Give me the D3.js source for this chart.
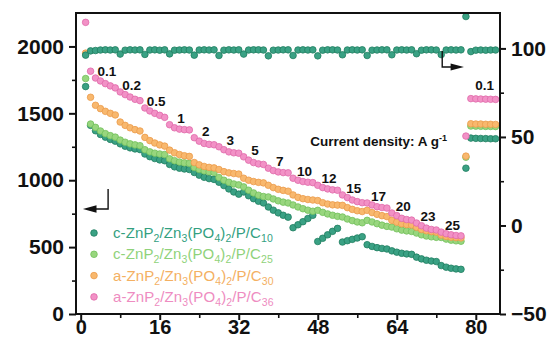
<!DOCTYPE html>
<html><head><meta charset="utf-8">
<script src="https://cdn.jsdelivr.net/npm/d3@7"></script>
<style>
html,body{margin:0;padding:0;background:#fff;}
svg{display:block;font-family:"Liberation Sans",Arial,sans-serif;}
</style></head><body>
<svg id="chart" width="550" height="339"></svg>
<script>
// ---------- data ----------
const rateLabels = ["0.1","0.2","0.5","1","2","3","5","7","10","12","15","17","20","23","25"];
const recoveryLabel = "0.1";
const xTicks = [0,16,32,48,64,80];
const yLeftTicks = [0,500,1000,1500,2000];
const yRightTicks = [-50,0,50,100];
const seriesNames = ["c10","c25","a30","a36"];

const capC10 = [1700,1410,
1370,1342,1322,1305,1292,
1272,1254,1242,1234,1229,
1196,1176,1162,1152,1146,
1118,1100,1090,1084,1080,
1058,1038,1022,1012,1006,
985,960,935,912,896,
912,884,862,843,830,
800,776,756,738,724,
645,667,690,714,738,
542,566,592,618,640,
538,548,558,568,578,
518,505,496,490,486,
472,462,454,449,446,
425,412,402,396,392,
362,350,342,337,334,
1090,
1315,1313,1312,1311,1310,1310];

const capC25 = [1760,1420,
1395,1368,1348,1333,1322,
1300,1284,1272,1264,1258,
1228,1212,1202,1196,1192,
1160,1146,1136,1130,1126,
1095,1080,1070,1063,1058,
1020,1000,985,972,965,
950,925,905,888,878,
875,860,846,836,830,
815,800,787,776,768,
775,760,748,738,730,
725,710,698,688,682,
700,688,675,664,655,
650,637,627,621,617,
605,592,583,577,573,
572,560,552,547,544,
1172,
1405,1404,1403,1402,1402,1401];

const capA30 = [1950,1620,
1560,1535,1515,1500,1488,
1435,1410,1392,1378,1368,
1320,1296,1278,1264,1255,
1225,1205,1192,1183,1178,
1132,1115,1103,1096,1092,
1080,1064,1055,1050,1046,
1015,1000,990,984,980,
962,945,932,924,918,
890,872,862,856,852,
848,832,822,816,814,
812,795,782,772,766,
775,758,745,735,728,
700,686,674,668,665,
648,632,622,616,612,
590,580,574,571,569,
1180,
1422,1420,1420,1418,1418,1417];

const capA36 = [2180,1815,
1764,1742,1722,1705,1690,
1660,1640,1622,1605,1595,
1540,1518,1500,1485,1470,
1415,1392,1382,1378,1376,
1318,1292,1275,1268,1265,
1250,1228,1212,1205,1202,
1175,1150,1132,1122,1118,
1090,1072,1062,1057,1055,
1015,1000,990,985,982,
962,945,935,928,925,
890,870,852,840,832,
830,815,802,796,792,
755,735,715,706,702,
680,660,642,632,628,
612,600,592,587,584,
1330,
1610,1608,1607,1606,1605,1604];

const coulombicEff = [96.2,98.6,
98.8,99.1,99.2,99.1,99.2,
96.8,99.0,99.2,99.1,99.2,
96.6,99.1,99.2,99.0,99.2,
96.9,99.0,99.1,99.2,99.1,
96.2,99.1,99.2,99.1,99.2,
96.0,99.0,99.2,99.1,99.2,
96.8,99.1,99.2,99.2,99.1,
95.8,99.0,99.1,99.2,99.2,
96.0,99.1,99.2,99.1,99.2,
95.8,99.0,99.2,99.2,99.1,
96.4,99.1,99.2,99.1,99.2,
96.0,99.0,99.1,99.2,99.2,
96.4,99.1,99.2,99.1,99.2,
97.0,99.0,99.2,99.2,99.1,
96.5,99.1,99.2,99.1,99.2,
118.0,
98.2,99.0,99.1,99.0,99.1,99.1];

// ---------- setup ----------
const m = {left:76, top:13, right:500, bottom:314};
const svg = d3.select("#chart");

const x = d3.scaleLinear().domain([-0.95, 84.9]).range([m.left, m.right]);
const yL = d3.scaleLinear().domain([0, 2250]).range([m.bottom, m.top]);
const yR = d3.scaleLinear().domain([-50, 120]).range([m.bottom, m.top]);

const colors = {
  c10: {fill:"#3aa184", stroke:"#1f7d60"},
  c25: {fill:"#98d67e", stroke:"#72c05c"},
  a30: {fill:"#f8b86e", stroke:"#eb9b4a"},
  a36: {fill:"#f291c6", stroke:"#e06aa9"}
};
const textColors = {c10:"#33a07f", c25:"#8fd27a", a30:"#f4b062", a36:"#ee8cc1"};

const caps = {c10:capC10, c25:capC25, a30:capA30, a36:capA36};
const R = 3.3;

// ---------- points ----------
const gPts = svg.append("g");
seriesNames.forEach(name => {
  gPts.append("g").selectAll("circle")
    .data(caps[name])
    .join("circle")
    .attr("cx", (d,i) => x(i+1))
    .attr("cy", d => yL(d))
    .attr("r", R)
    .attr("fill", colors[name].fill)
    .attr("stroke", colors[name].stroke)
    .attr("stroke-width", 0.8);
});
gPts.append("g").selectAll("circle")
  .data(coulombicEff)
  .join("circle")
  .attr("cx", (d,i) => x(i+1))
  .attr("cy", d => yR(d))
  .attr("r", R)
  .attr("fill", colors.c10.fill)
  .attr("stroke", colors.c10.stroke)
  .attr("stroke-width", 0.8);

// ---------- rate labels ----------
const gLab = svg.append("g").attr("font-weight","bold").attr("font-size","13.5px").attr("fill","#111");
rateLabels.forEach((lab,k) => {
  const idx = 2 + 5*k;
  gLab.append("text")
    .attr("x", x(5 + 5*k + 0.3))
    .attr("y", yL(capA36[idx]) - 2)
    .attr("text-anchor","middle")
    .text(lab);
});
gLab.append("text")
  .attr("x", x(81.8))
  .attr("y", yL(capA36[78]) - 9)
  .attr("text-anchor","middle")
  .text(recoveryLabel);

svg.append("text")
  .attr("x", x(46.5)).attr("y", yL(1255))
  .attr("font-weight","bold").attr("font-size","13.5px").attr("fill","#111")
  .text("Current density: A g")
  .append("tspan").attr("baseline-shift","super").attr("font-size","9px").text("-1");

// ---------- arrows ----------
const gArr = svg.append("g").attr("stroke","#111").attr("stroke-width",1.4).attr("fill","none");
gArr.append("path").attr("d", `M${x(5.55)},${yL(935)} V${yL(785)} H${x(2.5)}`);
svg.append("path").attr("fill","#111")
  .attr("d", `M${x(0.45)},${yL(785)} L${x(3.2)},${yL(785)-3.8} L${x(3.2)},${yL(785)+3.8} Z`);
gArr.append("path").attr("d", `M${x(73.2)},${yR(98.5)} V${yR(89.5)} H${x(75)}`);
svg.append("path").attr("fill","#111")
  .attr("d", `M${x(77.6)},${yR(89.5)} L${x(74.9)},${yR(89.5)-3.5} L${x(74.9)},${yR(89.5)+3.5} Z`);

// ---------- axes ----------
const axFont = (size) => g => {
  g.selectAll("text").attr("font-size", size).attr("font-weight","bold")
    .attr("font-family",'"Liberation Sans",Arial,sans-serif').attr("fill","#111");
  g.select(".domain").remove();
  g.selectAll(".tick line").attr("stroke","#111").attr("stroke-width",2);
};
const minorStyle = g => {
  g.select(".domain").remove();
  g.selectAll("text").remove();
  g.selectAll(".tick line").attr("stroke","#111").attr("stroke-width",1.6);
};

svg.append("g").attr("transform",`translate(0,${m.bottom})`)
  .call(d3.axisBottom(x).tickValues([8,24,40,56,72]).tickSize(4)).call(minorStyle);
svg.append("g").attr("transform",`translate(${m.left},0)`)
  .call(d3.axisLeft(yL).tickValues([250,750,1250,1750]).tickSize(4)).call(minorStyle);
svg.append("g").attr("transform",`translate(${m.right},0)`)
  .call(d3.axisRight(yR).tickValues([-25,25,75]).tickSize(4)).call(minorStyle);

svg.append("g").attr("transform",`translate(0,${m.bottom})`)
  .call(d3.axisBottom(x).tickValues(xTicks).tickSize(6).tickPadding(0).tickFormat(d3.format("d"))).call(axFont("20px"));
svg.append("g").attr("transform",`translate(${m.left},0)`)
  .call(d3.axisLeft(yL).tickValues(yLeftTicks).tickSize(7).tickPadding(5).tickFormat(d3.format("d"))).call(axFont("21px"));
svg.append("g").attr("transform",`translate(${m.right},0)`)
  .call(d3.axisRight(yR).tickValues(yRightTicks).tickSize(6).tickPadding(5).tickFormat(d3.format("d"))).call(axFont("21px"));

svg.append("rect")
  .attr("x", m.left).attr("y", m.top)
  .attr("width", m.right - m.left).attr("height", m.bottom - m.top)
  .attr("fill","none").attr("stroke","#111").attr("stroke-width",2);

// ---------- legend ----------
const legendParts = {
  c10: [["c-ZnP",0],["2",1],["/Zn",0],["3",1],["(PO",0],["4",1],[")",0],["2",1],["/P/C",0],["10",1]],
  c25: [["c-ZnP",0],["2",1],["/Zn",0],["3",1],["(PO",0],["4",1],[")",0],["2",1],["/P/C",0],["25",1]],
  a30: [["a-ZnP",0],["2",1],["/Zn",0],["3",1],["(PO",0],["4",1],[")",0],["2",1],["/P/C",0],["30",1]],
  a36: [["a-ZnP",0],["2",1],["/Zn",0],["3",1],["(PO",0],["4",1],[")",0],["2",1],["/P/C",0],["36",1]]
};
const legX = 94, legY0 = 233, legDy = 21.3;
seriesNames.forEach((name,i) => {
  const yy = legY0 + i*legDy;
  svg.append("circle").attr("cx",legX).attr("cy",yy).attr("r",R)
    .attr("fill",colors[name].fill).attr("stroke",colors[name].stroke).attr("stroke-width",0.8);
  const t = svg.append("text").attr("x", legX+19).attr("y", yy+5)
    .attr("font-size","15px").attr("letter-spacing","0.1px").attr("fill", textColors[name]);
  legendParts[name].forEach(([s,sub], j) => {
    const ts = t.append("tspan").text(s);
    if (sub) { ts.attr("font-size","10.5px").attr("dy", 4); }
    else if (j > 0) { ts.attr("dy", -4); }
  });
});
</script>
</body></html>
